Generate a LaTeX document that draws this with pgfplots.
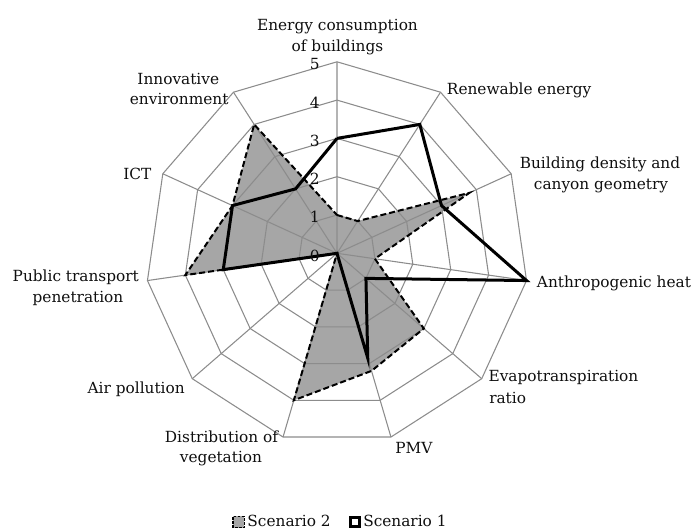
\documentclass[border=0pt]{standalone}
\usepackage{fontspec}
\setmainfont{DejaVu Serif}
\usepackage{pgfplots}
\pgfplotsset{compat=1.18}
\usepgfplotslibrary{polar}
\definecolor{gridgray}{RGB}{140,140,140}
\definecolor{fillgray}{RGB}{166,166,166}
\definecolor{labcol}{RGB}{15,15,15}
\begin{document}
\begin{tikzpicture}[font=\fontsize{11.5}{15}\selectfont]
\useasboundingbox (-252.75pt,-208.275pt) rectangle (267pt,189.975pt);
\begin{polaraxis}[
  at={(0pt,0pt)}, anchor=center,
  scale only axis, width=287.25pt, height=287.25pt,
  xmin=0, xmax=360, ymin=0, ymax=5, hide axis, clip=false,
  legend style={at={(0.51,-0.2016)}, anchor=center, draw=none, fill=none,
    legend columns=2, font=\fontsize{11.5}{14}\selectfont, text=labcol,
    /tikz/every even column/.append style={column sep=12pt}},
  legend cell align=left,
]
% Scenario 2 fill (below grid)
\addplot[draw=none, fill=fillgray,
  legend image code/.code={\draw[fill=fillgray, draw=black, line width=0.9pt, dash pattern=on 2pt off 1pt] (0pt,-4.2pt) rectangle (8.4pt,4.2pt);}]
  coordinates {(90,1) (57.272727,1) (24.545455,3.8) (-8.181818,1) (-40.909091,3) (-73.636364,3.2) (-106.363636,4) (-139.090909,0) (-171.818182,4) (-204.545455,3) (-237.272727,4) (90,1)};
% grid rings
\pgfplotsinvokeforeach{1,2,3,4,5}{
\addplot[gridgray, line width=0.8pt, forget plot] coordinates {(90,#1) (57.272727,#1) (24.545455,#1) (-8.181818,#1) (-40.909091,#1) (-73.636364,#1) (-106.363636,#1) (-139.090909,#1) (-171.818182,#1) (-204.545455,#1) (-237.272727,#1) (90,#1)};
}
% spokes
\addplot[gridgray, line width=0.8pt, forget plot] coordinates {(90,5) (0,0) (57.272727,5) (0,0) (24.545455,5) (0,0) (-8.181818,5) (0,0) (-40.909091,5) (0,0) (-73.636364,5) (0,0) (-106.363636,5) (0,0) (-139.090909,5) (0,0) (-171.818182,5) (0,0) (-204.545455,5) (0,0) (-237.272727,5)};
% Scenario 2 outline
\addplot[black, line width=1.5pt, dash pattern=on 4.5pt off 2.25pt, forget plot]
  coordinates {(90,1) (57.272727,1) (24.545455,3.8) (-8.181818,1) (-40.909091,3) (-73.636364,3.2) (-106.363636,4) (-139.090909,0) (-171.818182,4) (-204.545455,3) (-237.272727,4) (90,1)};
% Scenario 1
\addplot[black, line width=2.25pt, line join=miter,
  legend image code/.code={\draw[black, line width=1.8pt, fill=white] (0.9pt,-3.3pt) rectangle (7.5pt,3.3pt);}]
  coordinates {(90,3) (57.272727,4) (24.545455,3) (-8.181818,5) (-40.909091,1) (-73.636364,2.85) (-106.363636,0) (-139.090909,0) (-171.818182,3) (-204.545455,3) (-237.272727,2) (90,3)};
\legend{Scenario 2, Scenario 1}
\end{polaraxis}
\begin{scope}[x=0.75pt,y=0.75pt, every node/.style={inner sep=0pt, text=labcol}]
\node[anchor=base] at (0.5,222.8) {Energy consumption};
\node[anchor=base] at (0.5,201.8) {of buildings};
\node[anchor=base west] at (109.7,158.3) {Renewable energy};
\node[anchor=base] at (263,85) {Building density and};
\node[anchor=base] at (264,63.3) {canyon geometry};
\node[anchor=base west] at (199.7,-34.7) {Anthropogenic heat};
\node[anchor=base west] at (151.3,-128.4) {Evapotranspiration};
\node[anchor=base west] at (152,-149.8) {ratio};
\node[anchor=base west] at (58,-200) {PMV};
\node[anchor=base] at (-115.5,-189.4) {Distribution of};
\node[anchor=base] at (-116,-209.7) {vegetation};
\node[anchor=base east] at (-152,-140) {Air pollution};
\node[anchor=base] at (-261.2,-28.4) {Public transport};
\node[anchor=base] at (-259,-49.7) {penetration};
\node[anchor=base east] at (-185.3,73.3) {ICT};
\node[anchor=base] at (-158.7,168.3) {Innovative};
\node[anchor=base] at (-157.8,148.3) {environment};
\foreach \r in {0,...,5} {\node[anchor=base east] at (-17,\r*38.3-8) {\r};}
\end{scope}
\end{tikzpicture}
\end{document}
